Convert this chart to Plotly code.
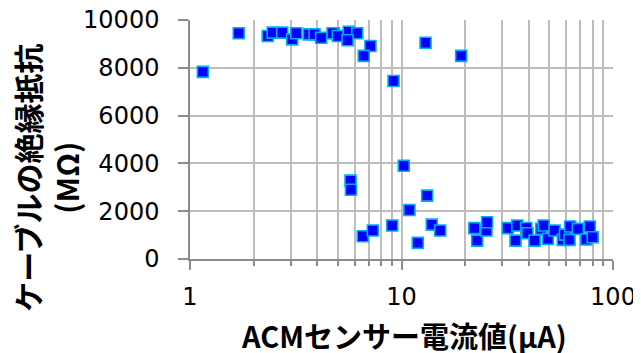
import plotly.graph_objects as go

current_uA = [1.15, 1.70, 2.33, 2.46, 2.73, 3.04, 3.18, 3.65, 3.88, 4.17, 4.79,
              4.72, 5.0, 5.63, 6.18, 5.56, 7.13, 6.63, 12.99, 19.15, 9.17,
              5.74, 5.77, 10.25, 13.23, 10.9, 6.56, 7.32, 9.04, 11.94, 13.9, 15.24,
              22.1, 22.8, 25.2, 25.4, 31.8, 34.6, 35.3, 38.9, 39.4, 42.6, 45.8, 47.0,
              49.2, 52.9, 57.9, 59.3, 62.3, 62.7, 68.2, 74.7, 77.7, 80.2]
resistance_MOhm = [7830, 9445, 9330, 9470, 9470, 9190, 9445, 9400, 9400, 9260, 9445,
                   9445, 9330, 9510, 9445, 9150, 8915, 8500, 9050, 8500, 7450,
                   3280, 2900, 3900, 2650, 2050, 950, 1190, 1400, 675, 1440, 1190,
                   1290, 770, 1190, 1540, 1290, 770, 1400, 1300, 1080, 770, 1260, 1400,
                   840, 1190, 800, 1020, 800, 1360, 1260, 815, 1360, 910]

x_title = "ACMセンサー電流値(μA)"
y_title = "ケーブルの絶縁抵抗<br>(MΩ)"
y_ticks = [0, 2000, 4000, 6000, 8000, 10000]
x_ticks = [1, 10, 100]

title_font = "Noto Sans CJK JP, sans-serif"
tick_font = "DejaVu Sans, sans-serif"
grid_color = "#bdbdbd"
axis_color = "#8c8c8c"

fig = go.Figure(go.Scatter(
    x=current_uA, y=resistance_MOhm, mode="markers",
    marker=dict(symbol="square", size=11, color="#0000ff",
                line=dict(color="#00b0f0", width=1.6)),
    showlegend=False,
))

# page body has an 8px default margin; margins compensate so the plot sits where the reference has it
fig.update_layout(
    width=641, height=353,
    margin=dict(l=182, r=36, t=12, b=102, autoexpand=False),
    paper_bgcolor="white", plot_bgcolor="white",
    font=dict(family=title_font, size=28, color="black"),
    xaxis=dict(
        type="log", range=[0, 2], tickvals=x_ticks, ticktext=[str(v) for v in x_ticks],
        showgrid=True, gridcolor=grid_color, gridwidth=1.5,
        showline=True, linecolor=axis_color, linewidth=1.5,
        ticks="outside", ticklen=9, tickcolor=axis_color, tickwidth=1.5,
        minor=dict(dtick="D1", showgrid=True, gridcolor=grid_color, gridwidth=1.5,
                   ticks="outside", ticklen=5, tickcolor=axis_color),
        tickfont=dict(family=tick_font, size=24, color="black"),
        ticklabelstandoff=6, automargin=False, ticklabeloverflow="allow",
        zeroline=False,
    ),
    yaxis=dict(
        range=[0, 10000], tickvals=y_ticks, ticktext=[str(v) for v in y_ticks],
        showgrid=True, gridcolor=grid_color, gridwidth=1.5,
        showline=True, linecolor=axis_color, linewidth=1.5,
        ticks="outside", ticklen=10, tickcolor=axis_color, tickwidth=1.5,
        tickfont=dict(family=tick_font, size=24, color="black"),
        ticklabelstandoff=14, zeroline=False, automargin=False, ticklabeloverflow="allow",
    ),
    annotations=[
        dict(text="<b>" + y_title + "</b>", xref="paper", yref="paper",
             x=-0.338, y=0.34, xanchor="center", yanchor="middle",
             textangle=-90, showarrow=False, font=dict(size=30)),
        dict(text="<b>" + x_title + "</b>", xref="paper", yref="paper",
             x=0.505, y=-0.318, xanchor="center", yanchor="middle",
             showarrow=False, font=dict(size=29)),
    ],
)

fig.write_html("out.html")
